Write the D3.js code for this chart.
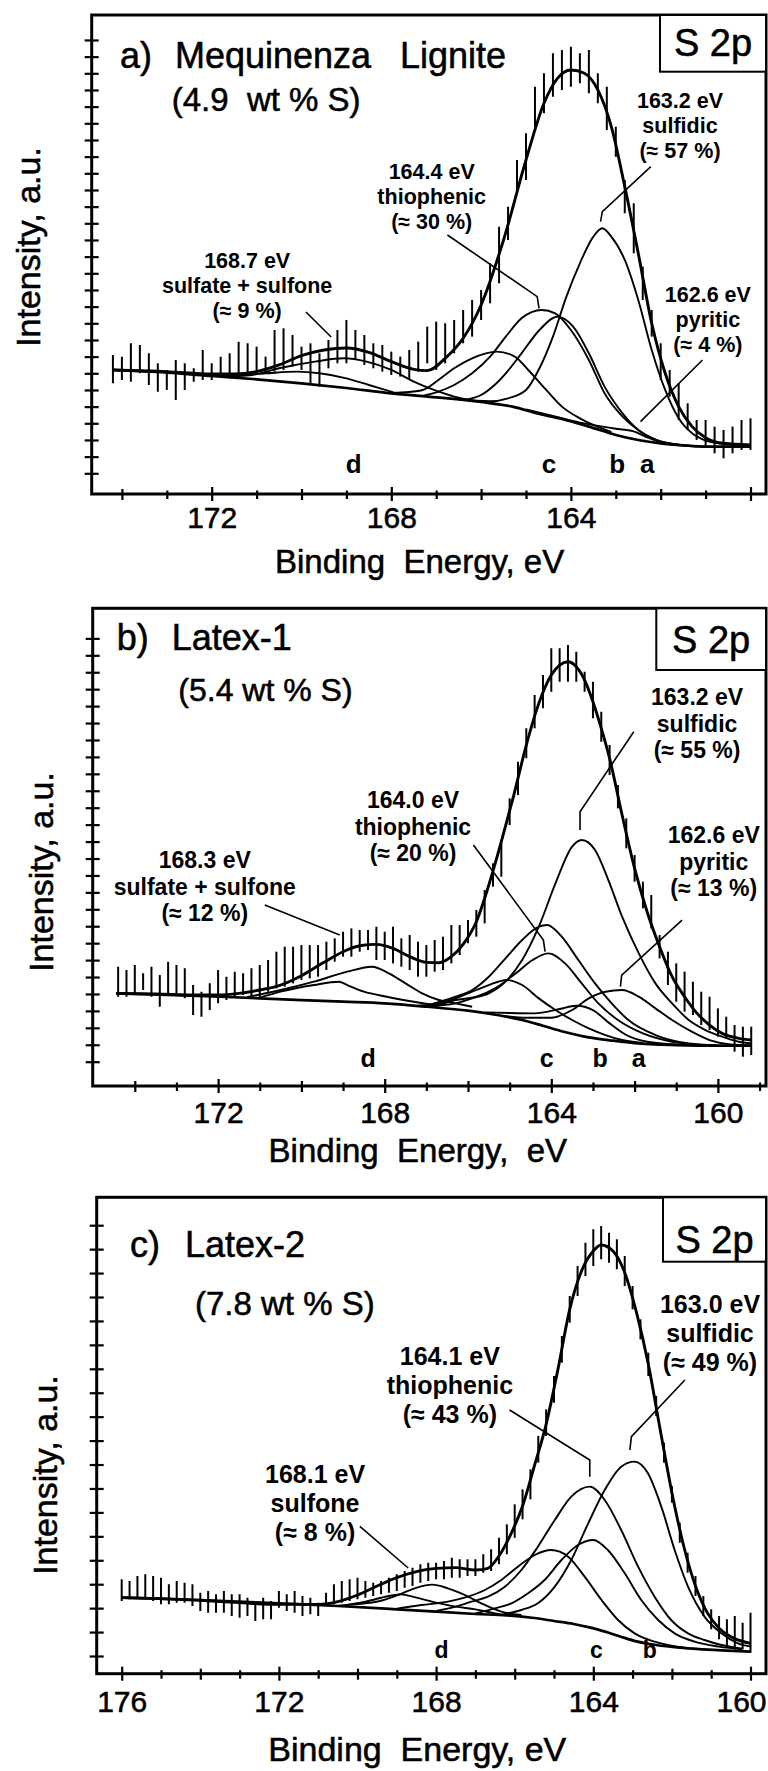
<!DOCTYPE html>
<html>
<head>
<meta charset="utf-8">
<script src="https://cdnjs.cloudflare.com/ajax/libs/d3/7.8.5/d3.min.js"></script>
<style>
  body { margin: 0; background: #fff; }
  text { font-family: "Liberation Sans", Arial, Helvetica, sans-serif; fill: #000; white-space: pre; }
  .heavy { stroke: #000; stroke-width: 0.55px; }
</style>
</head>
<body>
<div id="chart"></div>
<script>
// ---------- panel a : Mequinenza lignite ----------
// bars: [binding energy, top, bottom]  (intensity in a.u.)
var barsA = [[174.2,35.5,27],[174.0,35,28],[173.8,39,27.5],[173.6,38.5,30],[173.4,36,26.5],[173.2,33,24.5],[173.0,31,25],[172.8,34,22],[172.6,33,25],[172.4,31.5,27.5],[172.2,37,28],[172.0,33,28],[171.8,35,29],[171.6,36,28.5],[171.4,39.5,29.5],[171.2,39,30],[171.0,38,30.5],[170.8,35,30],[170.6,43,30.5],[170.4,43.5,31],[170.2,41.5,32],[170.0,38,31],[169.8,39,27],[169.6,36,26],[169.4,40,31.5],[169.2,43,33],[169.0,46,33],[168.8,43,34],[168.6,41.5,32.5],[168.4,39,31.5],[168.2,38.5,30.5],[168.0,36.5,29.5],[167.8,35,29],[167.6,37,28],[167.4,39.5,30.5],[167.2,44,33],[167.0,45.5,31],[166.8,45,33],[166.6,46,36],[166.4,49,39],[166.2,52,41],[166.0,55,46],[165.8,63,51],[165.6,74,57],[165.4,80,70],[165.2,94,84],[165.0,102,88],[164.8,116,104],[164.6,120,108],[164.4,126,113],[164.2,127,115],[164.0,128,116],[163.8,126,117],[163.6,127,114],[163.4,120,111],[163.2,116,103],[163.0,104,95],[162.8,88,78],[162.6,81,66],[162.4,62,52],[162.2,49,41],[162.0,39,28],[161.8,31,23],[161.6,27,16],[161.4,21,13],[161.2,16,10],[161.0,16,8],[160.8,14,6],[160.6,13,4.5],[160.4,14,6],[160.2,16,7],[160.0,16.5,7]];
var fitA = [[174.2,31],[173,30.5],[172,29.8],[171.5,29.8],[171,30.5],[170.5,32.5],[170,35.3],[169.5,37],[169,37.6],[168.5,36.3],[168,33.5],[167.5,31.2],[167.2,30.8],[166.8,34.5],[166.4,40.5],[166,50.5],[165.5,70],[165,94],[164.6,111],[164.3,118.5],[164,121],[163.7,120],[163.4,115],[163.1,104],[162.8,86],[162.5,66],[162.2,45],[161.9,30],[161.6,20],[161.3,14],[161,10.7],[160.6,9],[160,8.5]];
var bgA = [[174.2,31],[173,30.2],[172,29.2],[171,28.2],[170,27],[169,25.6],[168,24],[167,22.8],[166,21.4],[165.3,20],[164.7,17.8],[164.2,16.3],[163.6,14],[163,11.5],[162.5,10],[162,9],[161.5,8.4],[161,8],[160,8]];
var sulfidicA = [[166.5,22.2],[165.8,21.6],[165.4,22.5],[165.0,25],[164.7,31.5],[164.4,41],[164.1,53],[163.8,63],[163.5,71],[163.3,73.5],[163.1,71],[162.8,64],[162.5,52],[162.2,37],[161.9,25],[161.6,16.5],[161.3,12],[161,9.8],[160.6,8.8],[160,8.2]];
var thioA1 = [[167.3,23.2],[166.95,24.5],[166.6,26.5],[166.2,30],[165.8,35],[165.45,41],[165.1,46.5],[164.65,49],[164.35,48],[164.0,43],[163.6,34],[163.25,24],[162.85,17],[162.5,13],[162.1,10],[161.6,8.6],[161,8]];
var thioA2 = [[166.4,22],[166.0,23.5],[165.7,26.5],[165.45,30],[165.1,36],[164.7,43],[164.3,47],[163.95,44],[163.6,36],[163.25,26],[162.85,18],[162.5,13],[162.1,10],[161.6,8.6]];
var thioA3 = [[168.1,24.1],[167.7,24.3],[167.3,25],[166.95,28],[166.6,31.5],[166.2,34.5],[165.65,36.5],[165.25,35],[164.95,31],[164.55,25],[164.2,20],[163.8,16.5],[163.45,14.2],[163.1,12.4]];
var pyriticA = [[165,19.2],[164.4,17.2],[163.8,15.2],[163.3,14],[162.9,13.2],[162.6,12.6],[162.3,10.8],[162,9.3],[161.6,8.5],[161.2,8.1]];
var sulfateA1 = [[171.8,29],[171.1,29.5],[170.5,31.5],[169.7,33.5],[169.05,34.5],[168.55,33.5],[168.0,31],[167.5,27.5],[167.05,25],[166.6,23],[166.2,21.8]];
var sulfateA2 = [[172.2,29.4],[171.5,29.4],[170.8,30],[170.1,30.5],[169.6,30],[169,28.5],[168.5,26.5],[167.95,24.3]];
var notesA = [["168.7 eV", "sulfate + sulfone", "(\u2248 9 %)"], ["164.4 eV", "thiophenic", "(\u2248 30 %)"], ["163.2 eV", "sulfidic", "(\u2248 57 %)"], ["162.6 eV", "pyritic", "(\u2248 4 %)"]];
var lettersA = ["d", "c", "b", "a"];

// ---------- panel b : Latex-1 ----------
var barsB = [[174.4,28.5,19.5],[174.2,27.5,19.5],[174.0,29,20],[173.8,26.5,21.5],[173.6,28.5,19.5],[173.4,26,16.5],[173.2,30,20],[173.0,29,20.5],[172.8,28,19],[172.6,23,14],[172.4,21,13.5],[172.2,23.5,15.5],[172.0,27.5,17.5],[171.8,25.5,18.5],[171.6,27,19.5],[171.4,26.5,20],[171.2,28,19.5],[171.0,29,19],[170.8,30.5,21],[170.6,33,22],[170.4,34.5,22.5],[170.2,34.5,23.5],[170.0,35,24.5],[169.8,35,25],[169.6,35,25.5],[169.4,36,27.5],[169.2,37,30],[169.0,39,31.5],[168.8,40,31.5],[168.6,39.5,33],[168.4,39.5,33.5],[168.2,40.5,30.5],[168.0,39,30.5],[167.8,40.5,29.5],[167.6,37,28.5],[167.4,38,27.5],[167.2,36,25.5],[167.0,35,25.5],[166.8,36.5,27],[166.6,37.5,27.5],[166.4,41,29.5],[166.2,41,32],[166.0,42.5,35.5],[165.8,45.5,37.5],[165.6,51.5,41.5],[165.4,59.5,52.5],[165.2,65.5,55.5],[165.0,79,71],[164.8,90,80],[164.6,100,91],[164.4,110,100],[164.2,116,106],[164.0,124,111],[163.8,124,114],[163.6,125,114],[163.4,123,114],[163.2,117,111],[163.0,114,103],[162.8,105,96],[162.6,95,86],[162.4,83,76],[162.2,73,64],[162.0,62,54],[161.8,54,46],[161.6,50,40],[161.4,38,31],[161.2,33,23],[161.0,29.5,18],[160.8,27,15],[160.6,24,14],[160.4,21,11],[160.2,19.5,9.5],[160.0,16,7.5],[159.8,13.5,7],[159.6,11,3],[159.4,10.5,1.5],[159.2,10.5,2]];
var fitB = [[174.45,20.5],[173.5,20.3],[172.5,20],[172,20],[171.5,20.5],[171,21.5],[170.5,23],[170,25.8],[169.5,29.5],[169,33],[168.6,34.8],[168.2,35.2],[167.8,34],[167.4,31.5],[167,29.8],[166.7,29.7],[166.4,31.5],[166.1,35.5],[165.8,42],[165.5,53],[165.2,66],[164.9,80],[164.6,95],[164.3,107.5],[164.0,116],[163.8,119],[163.6,120],[163.4,118.5],[163.2,114.5],[163.0,108],[162.8,100],[162.6,91],[162.3,74],[162.0,58],[161.7,45],[161.4,34.5],[161.1,25.5],[160.8,19.5],[160.5,14.5],[160.2,11],[159.9,8.5],[159.5,7],[159.2,6.5]];
var bgB = [[174.45,20.5],[173,20],[171,19],[169,18],[168,17.5],[167,16.5],[166,15.3],[165.3,14],[164.7,12.5],[164.2,10.8],[163.7,9],[163.1,7.3],[162.5,6.3],[162,5.6],[161,5],[160,4.8],[159.2,4.8]];
var sulfidicB = [[167,16.6],[166.3,17.5],[165.9,19],[165.5,20.5],[165.1,24],[164.7,30.5],[164.3,40.5],[163.9,53.5],[163.5,64.5],[163.27,66.5],[162.95,63.5],[162.63,54.5],[162.3,43.5],[161.9,32.5],[161.5,23.5],[161.1,17.5],[160.7,12.5],[160.3,9.5],[159.9,7.5],[159.5,6],[159.2,5.5]];
var thioB1 = [[167,16.8],[166.3,19.5],[165.9,21.5],[165.5,25.5],[165.1,31],[164.7,36.5],[164.3,40.5],[164.1,41],[163.75,37.5],[163.35,30.5],[162.95,23.5],[162.55,17.5],[162.15,12.5],[161.5,8],[160.7,5.5],[160,4.9]];
var thioB2 = [[166.8,16.6],[166.3,18.5],[165.8,19.5],[165.35,22],[164.85,26.5],[164.45,30.5],[164.07,32.5],[163.67,29.5],[163.27,23.5],[162.87,17.5],[162.4,12.5],[161.8,8.5],[161.1,6],[160.3,5]];
var thioB3 = [[167.2,16.8],[166.7,17.5],[166.3,19],[165.9,21],[165.5,23],[165.07,24.5],[164.7,23],[164.3,19],[163.9,15.5],[163.5,12.5],[163.1,10],[162.7,8],[162.3,6.5],[161.8,5.6]];
var pyriticB1 = [[165.2,13.8],[164.6,13.2],[164.0,13.2],[163.5,15.5],[163.1,19],[162.7,21],[162.3,21.5],[161.9,19.5],[161.5,16],[161.1,12.5],[160.7,9.5],[160.2,6.5],[159.7,5.2],[159.2,4.9]];
var pyriticB2 = [[165.6,14.8],[165.0,14.6],[164.4,14.5],[163.8,15.8],[163.4,16.8],[163.0,15.5],[162.6,11.5],[162.2,8],[161.7,6],[161,5.2]];
var sulfateB1 = [[171.3,19.4],[170.5,21.5],[169.7,24],[168.9,27],[168.3,28.5],[167.9,26.5],[167.5,23.5],[167.1,20.5],[166.7,18.5],[166.3,17.5],[165.9,16.5]];
var sulfateB2 = [[171.0,19.2],[170.5,21],[169.7,23],[169.1,24],[168.9,23],[168.5,21],[167.95,19.5],[167.3,18],[166.7,16.8]];
var notesB = [["168.3 eV", "sulfate + sulfone", "(\u2248 12 %)"], ["164.0 eV", "thiophenic", "(\u2248 20 %)"], ["163.2 eV", "sulfidic", "(\u2248 55 %)"], ["162.6 eV", "pyritic", "(\u2248 13 %)"]];
var lettersB = ["d", "c", "b", "a"];

// ---------- panel c : Latex-2 ----------
var barsC = [[176.0,23,16.5],[175.8,22.5,17],[175.6,24,17.5],[175.4,24.5,17],[175.2,24,16.5],[175.0,23.5,15.5],[174.8,21.5,15.5],[174.6,22.5,16],[174.4,22,16],[174.2,21.5,15],[174.0,19,13.5],[173.8,19.5,13],[173.6,18.5,13],[173.4,19.5,13],[173.2,18.5,12],[173.0,18.5,11.5],[172.8,17.5,12],[172.6,16.5,10.5],[172.4,17.5,11],[172.2,16.5,11],[172.0,19.5,14.5],[171.8,18.5,13.5],[171.6,19.5,13],[171.4,18,12],[171.2,17.5,12.5],[171.0,16,12],[170.8,19,15.5],[170.6,21.5,15.5],[170.4,22.5,16],[170.2,23,16.5],[170.0,23.5,17],[169.8,22.5,17.5],[169.6,22,18],[169.4,22.5,18.5],[169.2,23.5,19],[169.0,24.5,19.5],[168.8,25.5,20.5],[168.6,26.5,21],[168.4,27.5,22],[168.2,28,22.5],[168.0,28,23],[167.8,28.5,23],[167.6,29.5,23.5],[167.4,29,23.5],[167.2,29,24],[167.0,29,24],[166.8,30.5,25],[166.6,32,25.5],[166.4,35.5,27.5],[166.2,39.5,30.5],[166.0,45.5,35.5],[165.8,50,41],[165.6,56,47],[165.4,66,58],[165.2,74,66],[165.0,84,76],[164.8,96,88],[164.6,108,100],[164.4,117,108],[164.2,124,114],[164.0,128,117],[163.8,129,119],[163.6,127,118],[163.4,125,116],[163.2,120,111],[163.0,111,104],[162.8,101,95],[162.6,91,84],[162.4,78,72],[162.2,64,58],[162.0,51,46],[161.8,40,34],[161.6,31,25],[161.4,24,18],[161.2,18,12],[161.0,14,8],[160.8,12,5],[160.6,11,3],[160.4,12,2],[160.2,10,2],[160.0,13,1]];
var fitC = [[176,17.5],[175,17.2],[174,16.7],[173,16],[172,15.5],[171,15.5],[170.5,16.3],[170,18.3],[169.5,21],[169,23.5],[168.5,25.3],[168,26.3],[167.5,26.5],[167,25.8],[166.7,26.2],[166.4,30],[166.1,36.5],[165.8,45],[165.5,57],[165.2,69.5],[164.9,86],[164.6,104],[164.3,115.5],[164.0,121.5],[163.8,123.3],[163.5,121.5],[163.2,115],[162.9,103],[162.6,87.5],[162.3,68],[162.0,49],[161.7,33],[161.4,21],[161.1,13],[160.8,8.3],[160.4,5.2],[160.0,3.8]];
var bgC = [[176,17.5],[174,16.8],[172,15.8],[170.5,15],[169,14],[168,13.3],[167,12.6],[166.2,12.2],[165.5,11.4],[165,10.5],[164.5,9.6],[164.1,8.6],[163.7,7.3],[163.3,5.8],[162.9,4.4],[162.4,3.3],[161.8,2.5],[161.2,2],[160.6,1.6],[160,1.3]];
var sulfidicC = [[166.3,12.5],[165.83,13.8],[165.41,15.8],[164.98,20.8],[164.56,28.8],[164.13,39.8],[163.71,49.8],[163.29,56.8],[162.95,58.3],[162.61,54.8],[162.27,44.8],[161.93,31.8],[161.59,20.8],[161.17,11.8],[160.74,6.8],[160.32,3.8],[159.98,2.8]];
var thioC1 = [[168,13.5],[167.5,14.8],[167.1,16.3],[166.68,17.8],[166.25,20.8],[165.83,25.8],[165.41,32.8],[164.98,40.8],[164.56,47.8],[164.09,50.8],[163.71,46.8],[163.29,37.8],[162.86,26.8],[162.44,17.8],[162.02,10.8],[161.59,6.8],[161.17,4.8],[160.74,3.3],[160.2,2.2]];
var thioC2 = [[167,12.8],[166.51,14.3],[166.08,15.8],[165.66,18.8],[165.24,22.8],[164.81,28.8],[164.39,33.3],[164.0,34.8],[163.63,31.8],[163.2,24.8],[162.78,16.8],[162.35,10.8],[161.93,6.8],[161.42,4.3],[160.8,2.8],[160.2,2]];
var thioC3 = [[169,14.2],[168.38,15.3],[167.7,16.3],[167.19,17.8],[166.76,19.8],[166.34,22.8],[165.92,26.8],[165.49,30.3],[165.07,31.8],[164.64,29.8],[164.22,23.8],[163.79,16.8],[163.37,10.8],[162.95,6.8],[162.44,4.3],[161.59,2.3]];
var sulfoneC1 = [[170.5,15],[170.07,15.5],[169.43,16.5],[168.97,18.3],[168.54,20.3],[168.1,21.4],[167.7,20.3],[167.27,18.3],[166.85,15.8],[166.34,13.3],[165.83,12.3]];
var sulfoneC2 = [[170.5,15],[169.8,16.3],[169.2,18],[168.9,18.5],[168.5,17.5],[168,16],[167.5,14.8],[167,14],[166.5,12.8],[166.1,12.2]];
var notesC = [["168.1 eV", "sulfone", "(\u2248 8 %)"], ["164.1 eV", "thiophenic", "(\u2248 43 %)"], ["163.0 eV", "sulfidic", "(\u2248 49 %)"]];
var lettersC = ["d", "c", "b"];

// ---------- layout ----------
var panels = [
  {id: "a", left: 91.7, right: 766, top: 15, bottom: 494,
   xRef: [172, 164], xPx: [211.7, 570.9], y0: 473.3, tickStep: 5, nTicks: 27,
   xTicks: d3.range(174, 159.5, -1), xLabels: [172, 168, 164], tickLabelY: 528,
   bars: barsA, fit: fitA, bg: bgA,
   comps: [sulfateA2, sulfateA1, thioA3, thioA1, thioA2, sulfidicA, pyriticA],
   title: ["a)", "Mequinenza", "Lignite"], titleX: [120, 175, 400], titleY: 68,
   sub: "(4.9  wt % S)", subX: 171.7, subY: 111, subSize: 33,
   notes: notesA, noteAt: [[171.21, 61.5], [167.1, 88.4], [161.57, 109.5], [160.95, 51.5]],
   leads: [[[169.9, 48.4], [169.34, 40.9]], [[166.75, 71.5], [164.75, 53], [164.71, 49.5]],
           [[162.22, 92], [163.3, 78.5], [163.34, 75.5]], [[161.07, 34], [162.45, 15.5]]],
   noteSize: 21.5, noteGap: 25,
   letters: lettersA, letterE: [168.84, 164.49, 162.97, 162.3], letterI: 0, letterSize: 26,
   box: [660, 71.7], boxTextY: 56,
   xTitle: "Binding  Energy, eV", xTitleX: 275, xTitleY: 573, xTitleSize: 33,
   yTitleX: 40, yTitleY: 247},
  {id: "b", left: 92.7, right: 766, top: 608.3, bottom: 1086,
   xRef: [168, 164], xPx: [384.7, 551.3], y0: 1061.7, tickStep: 5.08, nTicks: 26,
   xTicks: d3.range(174, 158.5, -1), xLabels: [172, 168, 164, 160], tickLabelY: 1123,
   bars: barsB, fit: fitB, bg: bgB,
   comps: [sulfateB2, sulfateB1, thioB3, thioB2, thioB1, sulfidicB, pyriticB2, pyriticB1],
   title: ["b)", "Latex-1"], titleX: [116.7, 171.7], titleY: 650,
   sub: "(5.4 wt % S)", subX: 178.3, subY: 701, subSize: 32,
   notes: notesB, noteAt: [[172.32, 58], [167.32, 76], [160.5, 107], [160.1, 65.5]],
   leads: [[[170.88, 47], [169.08, 38]], [[165.87, 65], [164.19, 36.5], [164.15, 33]],
           [[162.02, 99], [163.31, 75], [163.31, 69.5]], [[160.86, 42.5], [162.31, 26], [162.34, 22.5]]],
   noteSize: 23, noteGap: 26.5,
   letters: lettersB, letterE: [168.4, 164.11, 162.83, 161.9], letterI: -1.5, letterSize: 25,
   box: [656.3, 670], boxTextY: 653,
   xTitle: "Binding  Energy,  eV", xTitleX: 268.6, xTitleY: 1161.7, xTitleSize: 33,
   yTitleX: 53, yTitleY: 872},
  {id: "c", left: 96.7, right: 766, top: 1197.3, bottom: 1673.7,
   xRef: [176, 168], xPx: [121.7, 436.1], y0: 1656, tickStep: 7.18, nTicks: 19,
   xTicks: d3.range(176, 159.5, -1), xLabels: [176, 172, 168, 164, 160], tickLabelY: 1711.7,
   bars: barsC, fit: fitC, bg: bgC,
   comps: [sulfoneC2, sulfoneC1, thioC3, thioC2, thioC1, sulfidicC],
   title: ["c)", "Latex-2"], titleX: [130, 185], titleY: 1256.7,
   sub: "(7.8 wt % S)", subX: 195, subY: 1315, subSize: 33,
   notes: notesC, noteAt: [[171.08, 51.9], [167.65, 87.3], [161.03, 102.8]],
   leads: [[[169.94, 38.9], [168.71, 26.4]], [[166.13, 73.8], [164.09, 58.8], [164.09, 53.8]],
           [[161.67, 82.8], [163.03, 65.8], [163.07, 61.8]]],
   noteSize: 25, noteGap: 29,
   letters: lettersC, letterE: [167.86, 163.92, 162.56], letterI: -0.6, letterSize: 23,
   box: [663, 1261.7], boxTextY: 1253,
   xTitle: "Binding  Energy, eV", xTitleX: 268.3, xTitleY: 1761, xTitleSize: 34,
   yTitleX: 57, yTitleY: 1475}
];

var svg = d3.select("#chart")
  .append("svg")
    .attr("width", 768)
    .attr("height", 1771);

panels.forEach(drawPanel);

function drawPanel(p) {
  var x = d3.scaleLinear().domain(p.xRef).range(p.xPx);
  var y = d3.scaleLinear().domain([0, 100]).range([p.y0, p.y0 - 333.33]);

  var g = svg.append("g");

  svg.append("clipPath").attr("id", "clip-" + p.id)
    .append("rect")
      .attr("x", p.left).attr("y", p.top)
      .attr("width", p.right - p.left).attr("height", p.bottom - p.top);

  var plot = g.append("g").attr("clip-path", "url(#clip-" + p.id + ")");

  var curve = d3.line()
      .x(function (d) { return x(d[0]); })
      .y(function (d) { return y(d[1]); })
      .curve(d3.curveMonotoneX);

  // measured points drawn as vertical error bars
  plot.selectAll(".bar")
    .data(p.bars)
    .enter()
    .append("line")
      .attr("x1", function (d) { return x(d[0]); })
      .attr("x2", function (d) { return x(d[0]); })
      .attr("y1", function (d) { return y(d[1]); })
      .attr("y2", function (d) { return y(d[2]); })
      .style("stroke", "#000")
      .style("stroke-width", 2);

  plot.selectAll(".comp")
    .data(p.comps)
    .enter()
    .append("path")
      .attr("d", curve)
      .style("fill", "none")
      .style("stroke", "#000")
      .style("stroke-width", 1.9);

  plot.append("path")
    .datum(p.bg)
    .attr("d", curve)
    .style("fill", "none").style("stroke", "#000").style("stroke-width", 2.7);

  plot.append("path")
    .datum(p.fit)
    .attr("d", curve)
    .style("fill", "none").style("stroke", "#000").style("stroke-width", 2.9);

  // frame
  g.append("rect")
    .attr("x", p.left).attr("y", p.top)
    .attr("width", p.right - p.left).attr("height", p.bottom - p.top)
    .style("fill", "none").style("stroke", "#000").style("stroke-width", 3);

  // x axis ticks crossing the bottom spine
  var xAxis = g.append("g")
    .attr("transform", "translate(0," + p.bottom + ")")
    .call(d3.axisBottom(x).tickValues(p.xTicks).tickSize(6)
      .tickFormat(function (d) { return p.xLabels.indexOf(d) >= 0 ? d : ""; }));
  xAxis.select(".domain").remove();
  xAxis.selectAll(".tick line")
    .attr("y1", function (d) { return d % 4 === 0 ? -7 : (d % 2 === 0 ? -5 : -3.5); })
    .attr("y2", function (d) { return d % 4 === 0 ? 7 : (d % 2 === 0 ? 6 : 5); })
    .style("stroke", "#000").style("stroke-width", 2.2);
  xAxis.selectAll(".tick text")
    .attr("class", "heavy")
    .attr("y", p.tickLabelY - p.bottom)
    .attr("dy", 0)
    .attr("dx", function (d) { return x(d) + 26 > 767 ? 767 - 26 - x(d) : 0; })
    .style("font-size", "30px")
    .style("fill", "#000");

  // y axis ticks (unlabelled)
  var yTicks = d3.range(p.nTicks).map(function (i) { return i * p.tickStep; });
  var yAxis = g.append("g")
    .attr("transform", "translate(" + p.left + ",0)")
    .call(d3.axisLeft(y).tickValues(yTicks).tickSize(7).tickFormat(""));
  yAxis.select(".domain").remove();
  yAxis.selectAll(".tick line")
    .attr("x1", -7).attr("x2", 7)
    .style("stroke", "#000").style("stroke-width", 2.2);

  // S 2p box
  g.append("rect")
    .attr("x", p.box[0]).attr("y", p.top)
    .attr("width", p.right - p.box[0]).attr("height", p.box[1] - p.top)
    .style("fill", "#fff").style("stroke", "#000").style("stroke-width", 2);
  g.append("text")
    .attr("class", "heavy")
    .attr("x", (p.box[0] + p.right) / 2).attr("y", p.boxTextY)
    .attr("text-anchor", "middle")
    .style("font-size", "38px")
    .text("S 2p");

  // titles
  p.title.forEach(function (t, i) {
    g.append("text")
      .attr("class", "heavy")
      .attr("x", p.titleX[i]).attr("y", p.titleY)
      .style("font-size", "36px")
      .text(t);
  });
  g.append("text")
    .attr("class", "heavy")
    .attr("x", p.subX).attr("y", p.subY)
    .style("font-size", p.subSize + "px")
    .text(p.sub);

  // peak annotations and leader lines
  var straight = d3.line()
      .x(function (d) { return x(d[0]); })
      .y(function (d) { return y(d[1]); });
  p.notes.forEach(function (lines, i) {
    var at = p.noteAt[i];
    var t = g.append("text")
      .attr("text-anchor", "middle")
      .style("font-size", p.noteSize + "px")
      .style("font-weight", "bold");
    lines.forEach(function (s, k) {
      t.append("tspan")
        .attr("x", x(at[0]))
        .attr("y", y(at[1]) + k * p.noteGap)
        .text(s);
    });
    g.append("path")
      .attr("d", straight(p.leads[i]))
      .style("fill", "none").style("stroke", "#000").style("stroke-width", 1.6);
  });

  g.selectAll(".letter")
    .data(p.letters)
    .enter()
    .append("text")
      .attr("x", function (d, i) { return x(p.letterE[i]); })
      .attr("y", y(p.letterI))
      .attr("text-anchor", "middle")
      .style("font-size", p.letterSize + "px")
      .style("font-weight", "bold")
      .text(function (d) { return d; });

  // axis titles
  g.append("text")
    .attr("class", "heavy")
    .attr("x", p.xTitleX).attr("y", p.xTitleY)
    .style("font-size", p.xTitleSize + "px")
    .text(p.xTitle);
  g.append("text")
    .attr("class", "heavy")
    .attr("transform", "translate(" + p.yTitleX + "," + p.yTitleY + ") rotate(-90)")
    .attr("text-anchor", "middle")
    .style("font-size", "34px")
    .text("Intensity, a.u.");
}
</script>
</body>
</html>
